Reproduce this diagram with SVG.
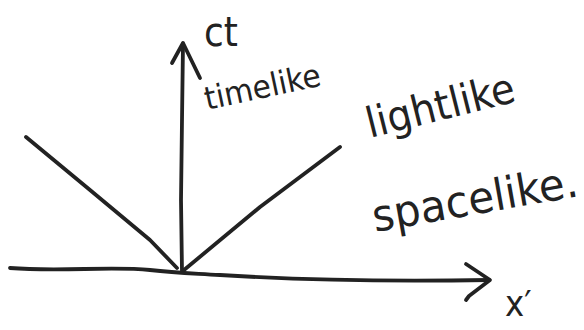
<svg xmlns="http://www.w3.org/2000/svg" width="584" height="330" viewBox="0 0 584 330">
<style>
.ln{fill:none;stroke:#222;stroke-width:3.8;stroke-linecap:round;stroke-linejoin:round}
.hw{font-family:"DejaVu Sans Condensed","Liberation Sans",sans-serif;fill:#222}
</style>
<rect width="584" height="330" fill="#fff"/>
<g id="connectors">
<path id="ct-axis" class="ln" d="M182,272 L181,200 L182,120 L183,44"/>
<path id="ct-head" class="ln" d="M172,63 L183,43 L200,78"/>
<path id="x-axis" class="ln" d="M10,268 C60,272 110,266 150,270 C175,273 185,273 220,275 C300,280 380,282 489,280"/>
<path id="x-head" class="ln" d="M466,264 L490,280 L469,296 L466,300"/>
<path id="left-cone" class="ln" d="M26,137 L90,190 L150,240 L177,268"/>
<path id="right-cone" class="ln" d="M340,147 L260,207 L184,270"/>
</g>
<g id="label-ct"><text class="hw" x="204" y="46" font-size="40">ct</text></g>
<g id="label-timelike"><text class="hw" transform="translate(207,110) rotate(-12)" font-size="32" textLength="118" lengthAdjust="spacingAndGlyphs">timelike</text></g>
<g id="label-lightlike"><text class="hw" transform="translate(370,138) rotate(-14)" font-size="42" textLength="152" lengthAdjust="spacingAndGlyphs">lightlike</text></g>
<g id="label-spacelike"><text class="hw" transform="translate(375,232) rotate(-10)" font-size="44" textLength="208" lengthAdjust="spacingAndGlyphs">spacelike.</text></g>
<g id="label-x"><text class="hw" x="505" y="316" font-size="36">x′</text></g>
</svg>
